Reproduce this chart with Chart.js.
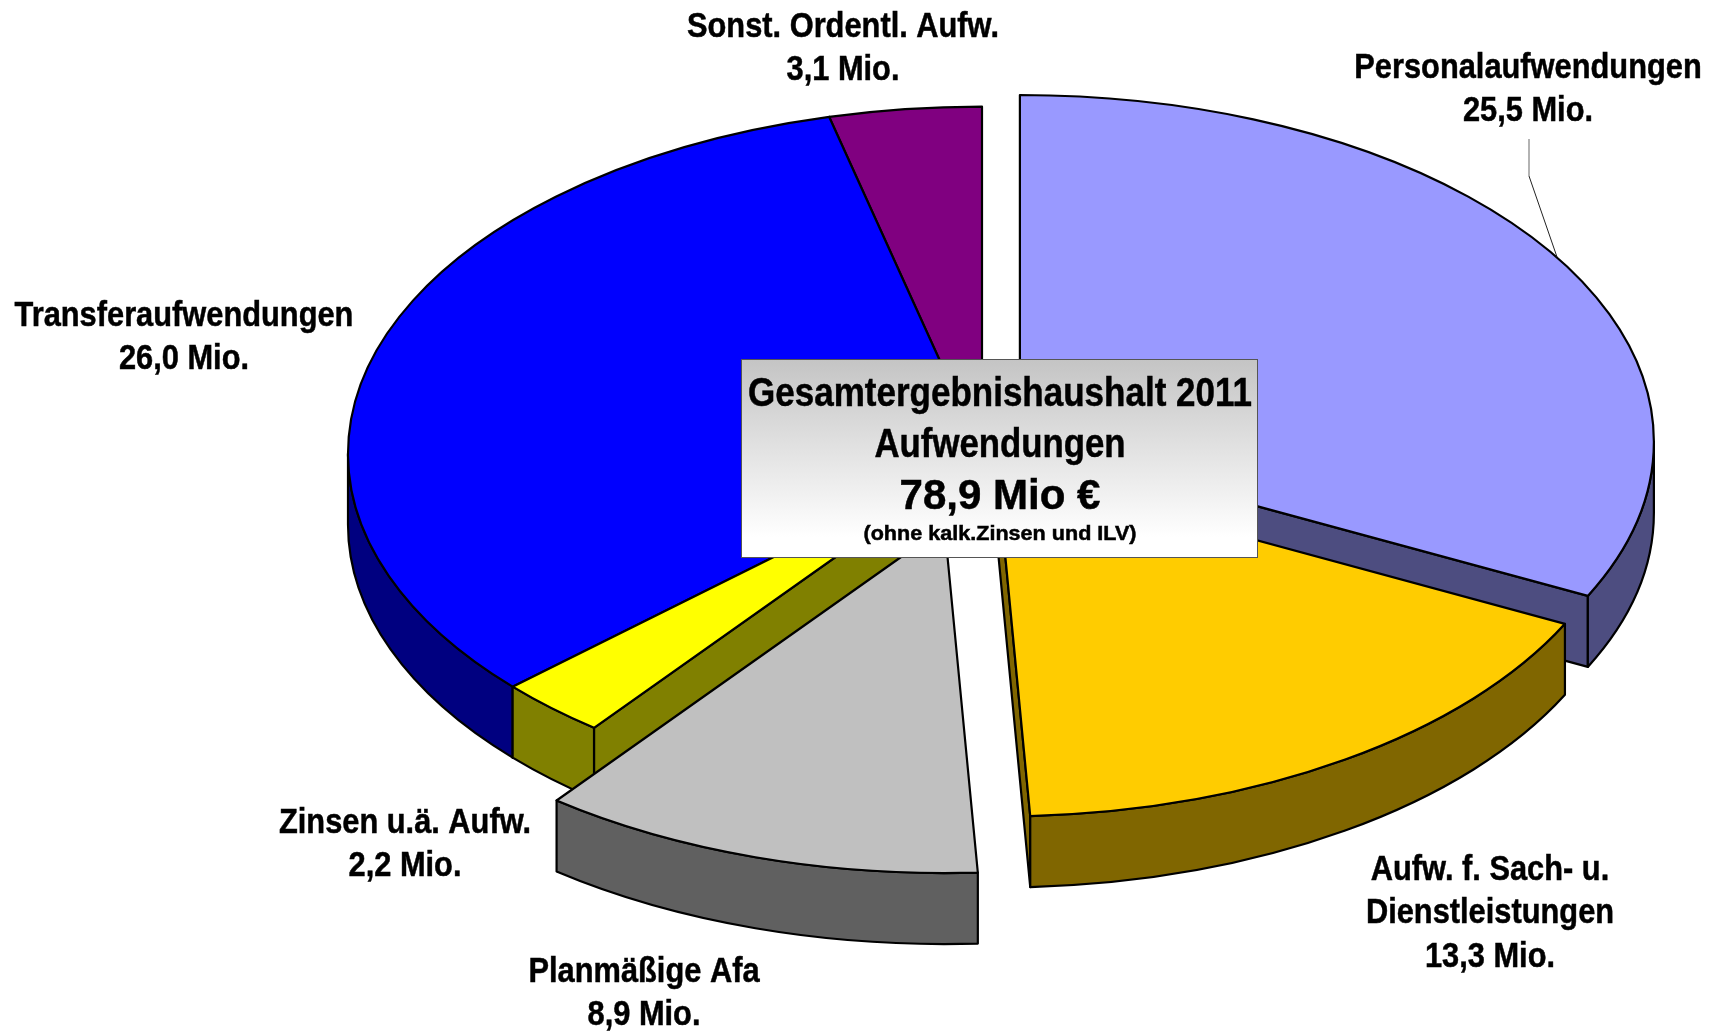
<!DOCTYPE html>
<html><head><meta charset="utf-8">
<style>html,body{margin:0;padding:0;background:#fff}canvas{display:block}</style>
<script src="https://cdn.jsdelivr.net/npm/chart.js@4/dist/chart.umd.min.js"></script>
</head><body><canvas id="c" width="1713" height="1032"></canvas>
<script>
const categories = ['Personalaufwendungen', ['Aufw. f. Sach- u.', 'Dienstleistungen'], 'Planmäßige Afa', 'Zinsen u.ä. Aufw.', 'Transferaufwendungen', 'Sonst. Ordentl. Aufw.'];
const values = [25.54, 13.3, 8.94, 2.2, 25.96, 3.06];
const topColors = ['#9999FF', '#FFCC00', '#C0C0C0', '#FFFF00', '#0000FF', '#800080'];
const wallColors = ['#4D4D80', '#806600', '#606060', '#808000', '#000080', '#400040'];
const explode = [44, 30, 135.5, 0, 0, 0];
const nudge = [[0.5, 1], [-1.5, 2.5], [3, 2], [0, 0], [0, 0], [0, 0]];
const paintOrder = [5, 4, 0, 3, 1, 2];
const labelAnchors = [[1528, 68], [1490, 870], [644, 972], [405, 823], [184, 316], [843, 27]];
const boxLines = [
  {t: 'Gesamtergebnishaushalt 2011', y: 395, size: 40, w: 504},
  {t: 'Aufwendungen', y: 446, size: 40, w: 251},
  {t: '78,9 Mio €', y: 497, size: 42, w: 201},
  {t: '(ohne kalk.Zinsen und ILV)', y: 534, size: 21, w: 273}
];
const SQUASH = 0.547, DEPTH = 71, RADIUS = 634, LW = 2.2, FONT = '"Liberation Sans", Arial, sans-serif';

function geom(arc, i) {
  const mid = (arc.startAngle + arc.endAngle) / 2;
  return {cx: arc.x + Math.cos(mid) * explode[i] + nudge[i][0], cy: arc.y + SQUASH * Math.sin(mid) * explode[i] + nudge[i][1],
          r: arc.outerRadius, ry: arc.outerRadius * SQUASH, s: arc.startAngle, e: arc.endAngle};
}
function finish(ctx, fill) {
  ctx.closePath(); ctx.fillStyle = fill; ctx.fill();
  ctx.strokeStyle = '#000'; ctx.lineWidth = LW; ctx.lineJoin = 'round'; ctx.stroke();
}
function radialWall(ctx, g, a, color) {
  const x = g.cx + g.r * Math.cos(a), y = g.cy + g.ry * Math.sin(a);
  ctx.beginPath(); ctx.moveTo(g.cx, g.cy); ctx.lineTo(x, y); ctx.lineTo(x, y + DEPTH); ctx.lineTo(g.cx, g.cy + DEPTH);
  finish(ctx, color);
}
function drawWalls(ctx, g, color) {
  // a radial side shows only when its outward normal faces down
  if (Math.cos(g.s) < 0) radialWall(ctx, g, g.s, color);
  if (Math.cos(g.e) > 0) radialWall(ctx, g, g.e, color);
  const s = Math.max(g.s, 0), e = Math.min(g.e, Math.PI);
  if (s < e) {
    ctx.beginPath();
    ctx.ellipse(g.cx, g.cy, g.r, g.ry, 0, s, e);
    ctx.ellipse(g.cx, g.cy + DEPTH, g.r, g.ry, 0, e, s, true);
    finish(ctx, color);
  }
}
function fitText(ctx, t, x, y, size, w) {
  ctx.font = 'bold ' + size + 'px ' + FONT;
  const m = ctx.measureText(t).width;
  ctx.save(); ctx.translate(x, y); ctx.scale(w ? w / m : 0.88, 1);
  ctx.textAlign = 'center'; ctx.textBaseline = 'middle'; ctx.fillStyle = '#000';
  ctx.fillText(t, 0, 0);
  ctx.strokeStyle = '#000'; ctx.lineWidth = 0.5; ctx.strokeText(t, 0, 0);
  ctx.restore();
}
const pie3d = {
  id: 'pie3d',
  beforeDatasetsDraw(chart) {
    const ctx = chart.ctx, arcs = chart.getDatasetMeta(0).data;
    paintOrder.forEach(i => { ctx.save(); drawWalls(ctx, geom(arcs[i], i), wallColors[i]); ctx.restore(); });
    paintOrder.forEach(i => {
      const arc = arcs[i], g = geom(arc, i);
      ctx.save();
      ctx.translate(g.cx, g.cy); ctx.scale(1, SQUASH); ctx.translate(-arc.x, -arc.y);
      arc.draw(ctx);
      ctx.restore();
      ctx.save();
      ctx.beginPath(); ctx.moveTo(g.cx, g.cy); ctx.ellipse(g.cx, g.cy, g.r, g.ry, 0, g.s, g.e);
      ctx.closePath(); ctx.strokeStyle = '#000'; ctx.lineWidth = LW; ctx.lineJoin = 'round'; ctx.stroke();
      ctx.restore();
    });
    return false;
  },
  afterDraw(chart) {
    const ctx = chart.ctx;
    ctx.save();
    ctx.strokeStyle = '#808080'; ctx.lineWidth = 1.2;
    ctx.beginPath(); ctx.moveTo(1529, 139); ctx.lineTo(1529, 176); ctx.stroke();
    ctx.strokeStyle = '#222'; ctx.lineWidth = 1;
    ctx.beginPath(); ctx.moveTo(1529, 176); ctx.lineTo(1557, 257); ctx.stroke();
    categories.forEach((c, i) => {
      const lines = [].concat(c, values[i].toFixed(1).replace('.', ',') + ' Mio.');
      lines.forEach((t, j) => fitText(ctx, t, labelAnchors[i][0], labelAnchors[i][1] + j * 43.5, 35));
    });
    const grad = ctx.createLinearGradient(0, 359, 0, 557);
    grad.addColorStop(0, '#C4C4C4'); grad.addColorStop(0.9, '#FFFFFF'); grad.addColorStop(1, '#FFFFFF');
    ctx.fillStyle = grad; ctx.fillRect(742, 359, 516, 198);
    ctx.strokeStyle = '#555'; ctx.lineWidth = 1; ctx.strokeRect(741.5, 359.5, 516, 198);
    boxLines.forEach(l => fitText(ctx, l.t, 1000, l.y, l.size, l.w));
    ctx.restore();
  }
};
new Chart(document.getElementById('c'), {
  type: 'pie',
  data: {
    labels: categories.map(c => [].concat(c).join(' ')),
    datasets: [{data: values, backgroundColor: topColors, borderWidth: 0}]
  },
  options: {
    responsive: false, animation: false, events: [], radius: RADIUS,
    layout: {padding: {left: 251, right: 0, top: 0, bottom: 125}},
    plugins: {legend: {display: false}, tooltip: {enabled: false}, title: {display: false}}
  },
  plugins: [pie3d]
});
</script></body></html>
